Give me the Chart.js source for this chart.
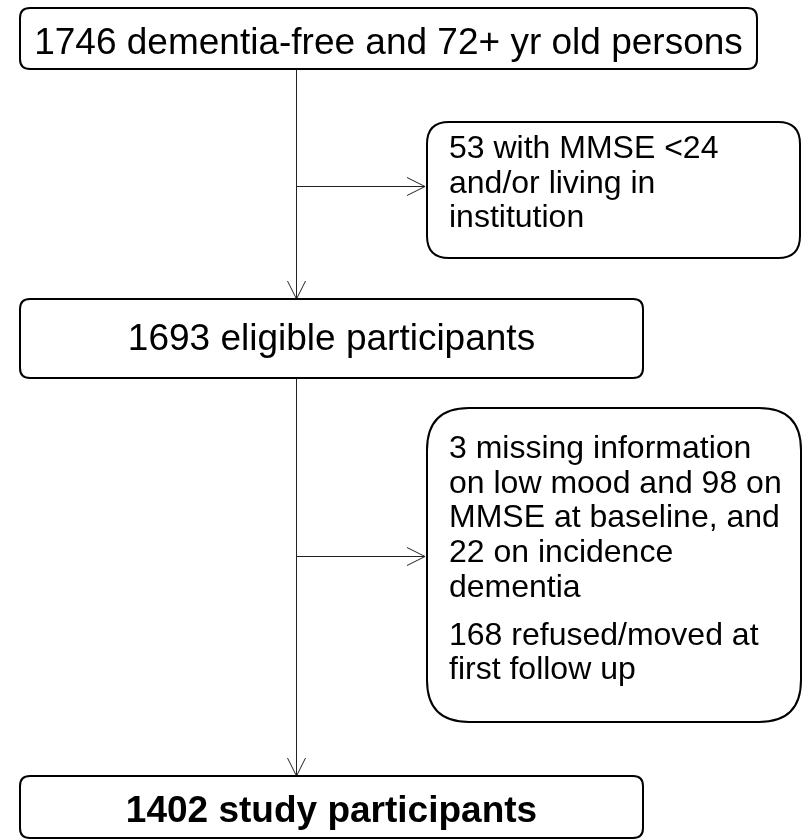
<!DOCTYPE html>
<html>
<head>
<meta charset="utf-8">
<script src="https://cdn.jsdelivr.net/npm/chart.js@4"></script>
<style>
  html, body { margin: 0; padding: 0; background: #fff; }
  #wrap { width: 802px; height: 839px; position: relative; }
</style>
</head>
<body>
<div id="wrap"><canvas id="flow"></canvas></div>
<script>
// flow counts and texts
const stageCounts = [1746, 1693, 1402];
const stageLabels = ['dementia-free and 72+ yr old persons', 'eligible participants', 'study participants'];
const excludedParas = [
  [['53 with MMSE <24', 'and/or living in', 'institution']],
  [['3 missing information', 'on low mood and 98 on', 'MMSE at baseline, and', '22 on incidence', 'dementia'],
   ['168 refused/moved at', 'first follow up']]
];

// layout in axis units (1 unit = 1 px)
const mainBoxes = [
  {x0: 20, x1: 757, y0: 8, y1: 69, base: 54, bold: false},
  {x0: 20, x1: 643, y0: 299, y1: 378, base: 350, bold: false},
  {x0: 20, x1: 643, y0: 776, y1: 838, base: 822, bold: true}
];
const sideBoxes = [
  {x0: 427, x1: 800, y0: 122, y1: 258, r: 22, base: 158, branchY: 186},
  {x0: 427, x1: 801, y0: 408, y1: 722, r: 42, base: 458, branchY: 556}
];
const spineX = 296;

function roundRect(ctx, x0, y0, x1, y1, r) {
  ctx.beginPath();
  ctx.moveTo(x0 + r, y0);
  ctx.lineTo(x1 - r, y0);
  ctx.quadraticCurveTo(x1, y0, x1, y0 + r);
  ctx.lineTo(x1, y1 - r);
  ctx.quadraticCurveTo(x1, y1, x1 - r, y1);
  ctx.lineTo(x0 + r, y1);
  ctx.quadraticCurveTo(x0, y1, x0, y1 - r);
  ctx.lineTo(x0, y0 + r);
  ctx.quadraticCurveTo(x0, y0, x0 + r, y0);
  ctx.closePath();
  ctx.stroke();
}

function arrow(ctx, x1, y1, x2, y2) {
  ctx.beginPath();
  ctx.moveTo(x1, y1);
  ctx.lineTo(x2, y2);
  ctx.stroke();
  const a = Math.atan2(y2 - y1, x2 - x1);
  const len = 18, w = 9;
  ctx.beginPath();
  ctx.moveTo(x2 - len * Math.cos(a) + w * Math.sin(a), y2 - len * Math.sin(a) - w * Math.cos(a));
  ctx.lineTo(x2, y2);
  ctx.lineTo(x2 - len * Math.cos(a) - w * Math.sin(a), y2 - len * Math.sin(a) + w * Math.cos(a));
  ctx.stroke();
}

const flowPlugin = {
  id: 'flow',
  afterDraw(chart) {
    const ctx = chart.ctx;
    const X = v => chart.scales.x.getPixelForValue(v);
    const Y = v => chart.scales.y.getPixelForValue(v);
    ctx.save();

    // connectors
    ctx.strokeStyle = '#222';
    ctx.lineWidth = 1;
    for (let i = 0; i < mainBoxes.length - 1; i++) {
      arrow(ctx, X(spineX) + 0.5, Y(mainBoxes[i].y1), X(spineX) + 0.5, Y(mainBoxes[i + 1].y0));
      const s = sideBoxes[i];
      arrow(ctx, X(spineX), Y(s.branchY) + 0.5, X(s.x0 - 2), Y(s.branchY) + 0.5);
    }

    // boxes
    ctx.strokeStyle = '#000';
    ctx.lineWidth = 2;
    ctx.fillStyle = '#000';
    ctx.textBaseline = 'alphabetic';
    mainBoxes.forEach((b, i) => {
      roundRect(ctx, X(b.x0), Y(b.y0), X(b.x1), Y(b.y1), 10);
      ctx.font = (b.bold ? 'bold ' : '') + '37px "Liberation Sans", Arial, sans-serif';
      ctx.textAlign = 'center';
      ctx.fillText(stageCounts[i] + ' ' + stageLabels[i], (X(b.x0) + X(b.x1)) / 2, Y(b.base));
    });

    ctx.font = '32px "Liberation Sans", Arial, sans-serif';
    ctx.textAlign = 'left';
    sideBoxes.forEach((s, i) => {
      roundRect(ctx, X(s.x0), Y(s.y0), X(s.x1), Y(s.y1), s.r);
      let y = s.base;
      excludedParas[i].forEach((para, p) => {
        if (p > 0) y += 13;
        para.forEach(line => {
          ctx.fillText(line, X(s.x0 + 22), Y(y));
          y += 34.7;
        });
      });
    });
    ctx.restore();
  }
};

new Chart(document.getElementById('flow').getContext('2d'), {
  type: 'scatter',
  data: {
    datasets: [{
      data: mainBoxes.map((b, i) => ({x: spineX, y: b.base, n: stageCounts[i]})),
      pointRadius: 0
    }]
  },
  options: {
    responsive: true,
    maintainAspectRatio: false,
    animation: false,
    layout: { padding: 0 },
    plugins: { legend: { display: false }, tooltip: { enabled: false } },
    scales: {
      x: { type: 'linear', min: 0, max: 802, display: false },
      y: { type: 'linear', min: 0, max: 839, reverse: true, display: false }
    }
  },
  plugins: [flowPlugin]
});
</script>
</body>
</html>
